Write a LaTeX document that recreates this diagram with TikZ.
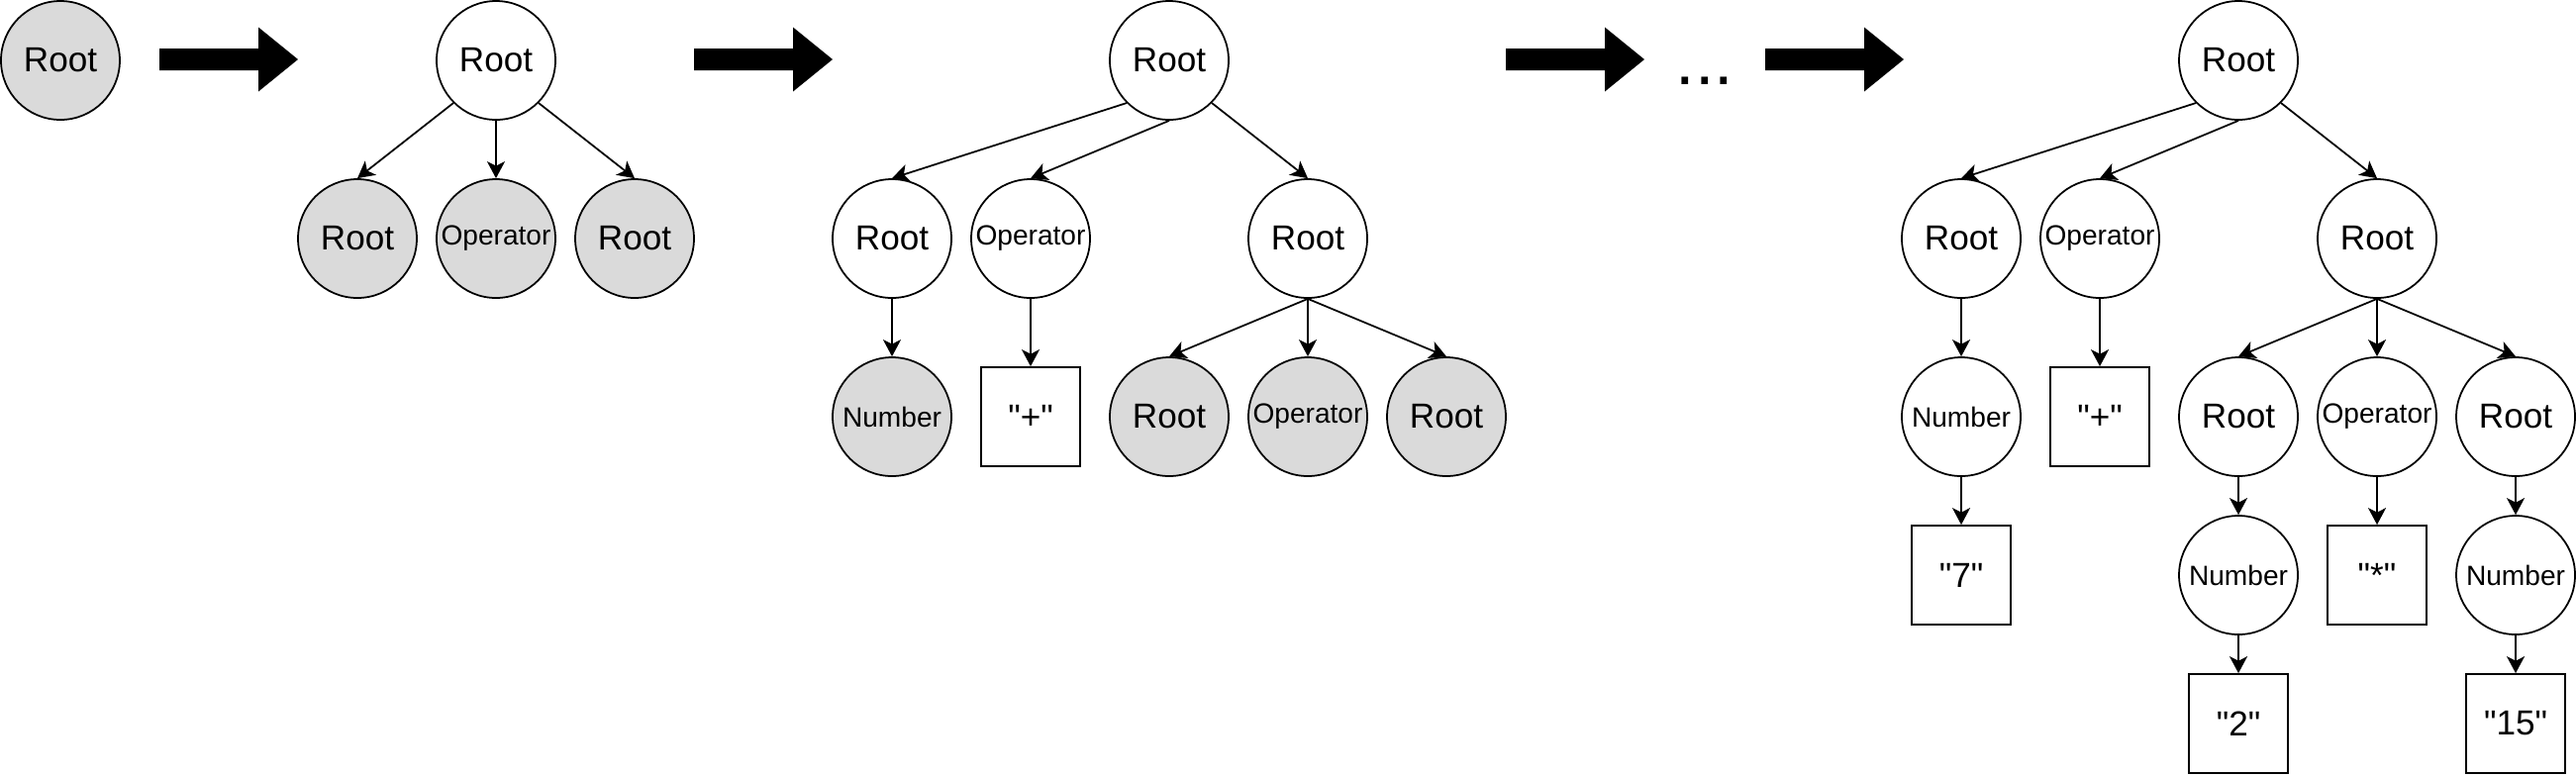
\documentclass[tikz,border=0pt]{standalone}
\usepackage{fontspec}
\setmainfont{Liberation Sans}
\newfontfamily\plainfont{Liberation Sans}
\usepackage{xcolor}
\usetikzlibrary{arrows.meta}

\definecolor{pending}{HTML}{DADADA}
\newcommand{\bigarrow}[1]{\fill (#1, -0.49) -- ++(1, 0) -- ++(0, 0.215) -- ++(0.4, -0.325) -- ++(-0.4, -0.325) -- ++(0, 0.215) -- ++(-1, 0) -- cycle;}

\begin{document}
\begin{tikzpicture}[
        line width=0.5pt,
        >={Stealth[length=1.7mm, width=1.8mm, inset=0.45mm]},
        tok/.style={circle, draw, minimum size=1.2cm, inner sep=0pt, font=\fontsize{10}{12}\selectfont},
        todo/.style={tok, fill=pending},
        smalltext/.style={font=\fontsize{8}{9.6}\selectfont},
        lit/.style={rectangle, draw, minimum size=1cm, inner sep=0pt, font=\plainfont\fontsize{10}{12}\selectfont}
    ]
                    \useasboundingbox (0, 0) rectangle (26.02, -7.84);

                    \node[todo] (root) at (0.61, -0.61) {Root};

                    \node[tok] (s) at (5.01, -0.61) {Root};
                    \node[todo] (sa) at (3.61, -2.41) {Root};
                    \node[todo, smalltext] (sop) at (5.01, -2.41) {Operator};
                    \node[todo] (sb) at (6.41, -2.41) {Root};

                    \node[tok] (t) at (11.81, -0.61) {Root};
                    \node[tok] (ta) at (9.01, -2.41) {Root};
                    \node[tok, smalltext] (top) at (10.41, -2.41) {Operator};
                    \node[tok] (tb) at (13.21, -2.41) {Root};
                    \node[todo, smalltext] (tnum) at (9.01, -4.21) {Number};
                    \node[lit] (tplus) at (10.41, -4.21) {"+"};
                    \node[todo] (tc) at (11.81, -4.21) {Root};
                    \node[todo, smalltext] (top2) at (13.21, -4.21) {Operator};
                    \node[todo] (td) at (14.61, -4.21) {Root};

                    \node[font=\fontsize{20}{24}\selectfont, inner sep=0pt, anchor=base] (dots) at (17.22, -0.857) {...};

                    \node[tok] (u) at (22.61, -0.61) {Root};
                    \node[tok] (ua) at (19.81, -2.41) {Root};
                    \node[tok, smalltext] (uop) at (21.21, -2.41) {Operator};
                    \node[tok] (ub) at (24.01, -2.41) {Root};
                    \node[tok, smalltext] (unum) at (19.81, -4.21) {Number};
                    \node[lit] (uplus) at (21.21, -4.21) {"+"};
                    \node[tok] (uc) at (22.61, -4.21) {Root};
                    \node[tok, smalltext] (uop2) at (24.01, -4.21) {Operator};
                    \node[tok] (ud) at (25.41, -4.21) {Root};
                    \node[lit] (useven) at (19.81, -5.81) {"7"};
                    \node[tok, smalltext] (unum2) at (22.61, -5.81) {Number};
                    \node[lit] (ustar) at (24.01, -5.81) {"*"};
                    \node[tok, smalltext] (unum3) at (25.41, -5.81) {Number};
                    \node[lit] (utwo) at (22.61, -7.31) {"2"};
                    \node[lit] (ufifteen) at (25.41, -7.31) {"15"};

                    \bigarrow{1.61}
                    \bigarrow{7.01}
                    \bigarrow{15.21}
                    \bigarrow{17.83}

                    \path[->]
                    (s.225) edge (sa.north)
                    (s.south) edge (sop.north)
                    (s.-45) edge (sb.north)
                    (t.225) edge (ta.north)
                    (t.south) edge (top.north)
                    (t.-45) edge (tb.north)
                    (ta.south) edge (tnum.north)
                    (top.south) edge (tplus.north)
                    (tb.south) edge (tc.north)
                    (tb.south) edge (top2.north)
                    (tb.south) edge (td.north)
                    (u.225) edge (ua.north)
                    (u.south) edge (uop.north)
                    (u.-45) edge (ub.north)
                    (ua.south) edge (unum.north)
                    (uop.south) edge (uplus.north)
                    (ub.south) edge (uc.north)
                    (ub.south) edge (uop2.north)
                    (ub.south) edge (ud.north)
                    (unum.south) edge (useven.north)
                    (uc.south) edge (unum2.north)
                    (uop2.south) edge (ustar.north)
                    (ud.south) edge (unum3.north)
                    (unum2.south) edge (utwo.north)
                    (unum3.south) edge (ufifteen.north);
                \end{tikzpicture}
\end{document}
